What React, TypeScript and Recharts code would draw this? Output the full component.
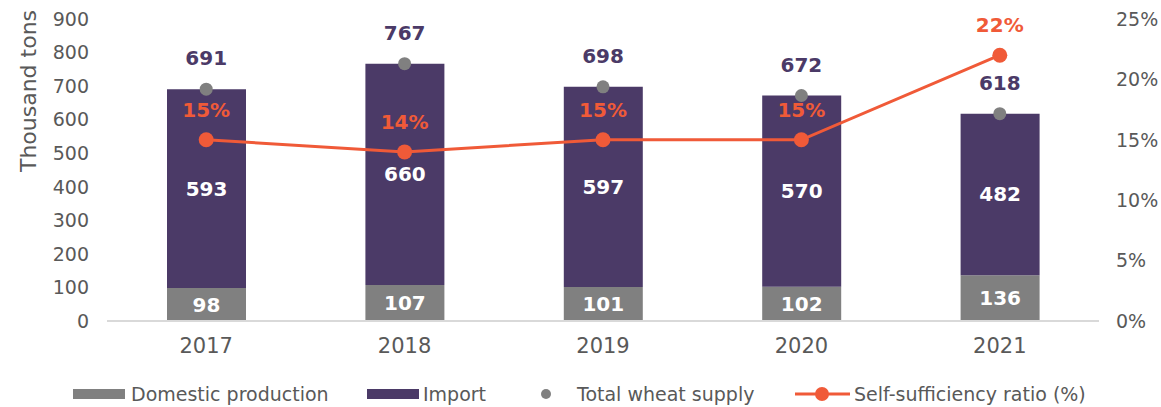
import React from 'react';
import { ComposedChart, Bar, Line, XAxis, YAxis, LabelList } from 'recharts';

const years = ['2017', '2018', '2019', '2020', '2021'];
const domesticProduction = [98, 107, 101, 102, 136];
const importVolume = [593, 660, 597, 570, 482];
const totalSupply = [691, 767, 698, 672, 618];
const selfSufficiency = [15, 14, 15, 15, 22];
const leftTicks = [0, 100, 200, 300, 400, 500, 600, 700, 800, 900];
const rightTicks = [0, 5, 10, 15, 20, 25];

const data = years.map((y, i) => ({
  year: y,
  domestic: domesticProduction[i],
  imp: importVolume[i],
  total: totalSupply[i],
  ratio: selfSufficiency[i],
}));

const C_DOM = '#808080';
const C_IMP = '#4b3a67';
const C_LINE = '#f05a38';
const C_DOT = '#808080';
const C_TEXT = '#595959';
const FONT = 'DejaVu Sans';

const barLabel = (props: any) => {
  const { x, y, width, height, value } = props;
  return (
    <text x={x + width / 2} y={y + height / 2} textAnchor="middle" dominantBaseline="central"
      fill="#ffffff" fontSize={20} fontWeight="bold" fontFamily={FONT}>{value}</text>
  );
};

const totalLabel = (props: any) => {
  const { x, y, value } = props;
  return (
    <text x={x} y={y - 31} textAnchor="middle" dominantBaseline="central"
      fill={C_IMP} fontSize={20} fontWeight="bold" fontFamily={FONT}>{value}</text>
  );
};

const ratioLabel = (props: any) => {
  const { x, y, value } = props;
  return (
    <text x={x} y={y - 30} textAnchor="middle" dominantBaseline="central"
      fill={C_LINE} fontSize={20} fontWeight="bold" fontFamily={FONT}>{value}%</text>
  );
};

export default function App() {
  return (
    <div style={{ position: 'absolute', left: 0, top: 0, width: 1161, height: 407, fontFamily: FONT }}>
      <ComposedChart width={1161} height={407} data={data}
        margin={{ top: 19, right: 0, bottom: 46, left: 0 }}>
        <XAxis dataKey="year" height={40} axisLine={{ stroke: '#d9d9d9', strokeWidth: 2 }}
          tickLine={false} tickMargin={11} tick={{ fontSize: 21, fill: C_TEXT, fontFamily: FONT }} />
        <YAxis yAxisId="left" width={107} domain={[0, 900]} ticks={leftTicks} axisLine={false}
          tickLine={false} tickMargin={12} interval={0}
          tick={{ fontSize: 19, fill: C_TEXT, fontFamily: FONT }}
          label={{
            content: () => (
              <text x={28} y={91} transform="rotate(-90 28 91)" textAnchor="middle"
                dominantBaseline="central" fill={C_TEXT} fontSize={22} fontFamily={FONT}>Thousand tons</text>
            ),
          }} />
        <YAxis yAxisId="right" orientation="right" width={62} domain={[0, 25]} ticks={rightTicks}
          axisLine={false} tickLine={false} tickMargin={11} interval={0}
          tickFormatter={(v: number) => `${v}%`}
          tick={{ fontSize: 19, fill: C_TEXT, fontFamily: FONT, textAnchor: 'start' }} />
        <Bar yAxisId="left" dataKey="domestic" stackId="s" fill={C_DOM} barSize={79} isAnimationActive={false}>
          <LabelList dataKey="domestic" content={barLabel} />
        </Bar>
        <Bar yAxisId="left" dataKey="imp" stackId="s" fill={C_IMP} barSize={79} isAnimationActive={false}>
          <LabelList dataKey="imp" content={barLabel} />
        </Bar>
        <Line yAxisId="left" dataKey="total" stroke="none" isAnimationActive={false}
          dot={{ r: 6.5, fill: C_DOT, stroke: 'none' }} activeDot={false}>
          <LabelList dataKey="total" content={totalLabel} />
        </Line>
        <Line yAxisId="right" dataKey="ratio" stroke={C_LINE} strokeWidth={3} isAnimationActive={false}
          dot={{ r: 7.5, fill: C_LINE, stroke: 'none' }} activeDot={false}>
          <LabelList dataKey="ratio" content={ratioLabel} />
        </Line>
      </ComposedChart>
      <svg width={1161} height={407} style={{ position: 'absolute', left: 0, top: 0, pointerEvents: 'none' }}>
        <g fontFamily={FONT} fontSize={19} fill={C_TEXT}>
          <rect x={73} y={389} width={52} height={10} fill={C_DOM} />
          <text x={131} y={394} dominantBaseline="central">Domestic production</text>
          <rect x={367} y={389} width={52} height={10} fill={C_IMP} />
          <text x={423} y={394} dominantBaseline="central">Import</text>
          <circle cx={546} cy={394} r={5} fill={C_DOT} />
          <text x={577} y={394} dominantBaseline="central">Total wheat supply</text>
          <line x1={795} y1={394} x2={850} y2={394} stroke={C_LINE} strokeWidth={3} />
          <circle cx={822} cy={394} r={7} fill={C_LINE} />
          <text x={854} y={394} dominantBaseline="central">Self-sufficiency ratio (%)</text>
        </g>
      </svg>
    </div>
  );
}
